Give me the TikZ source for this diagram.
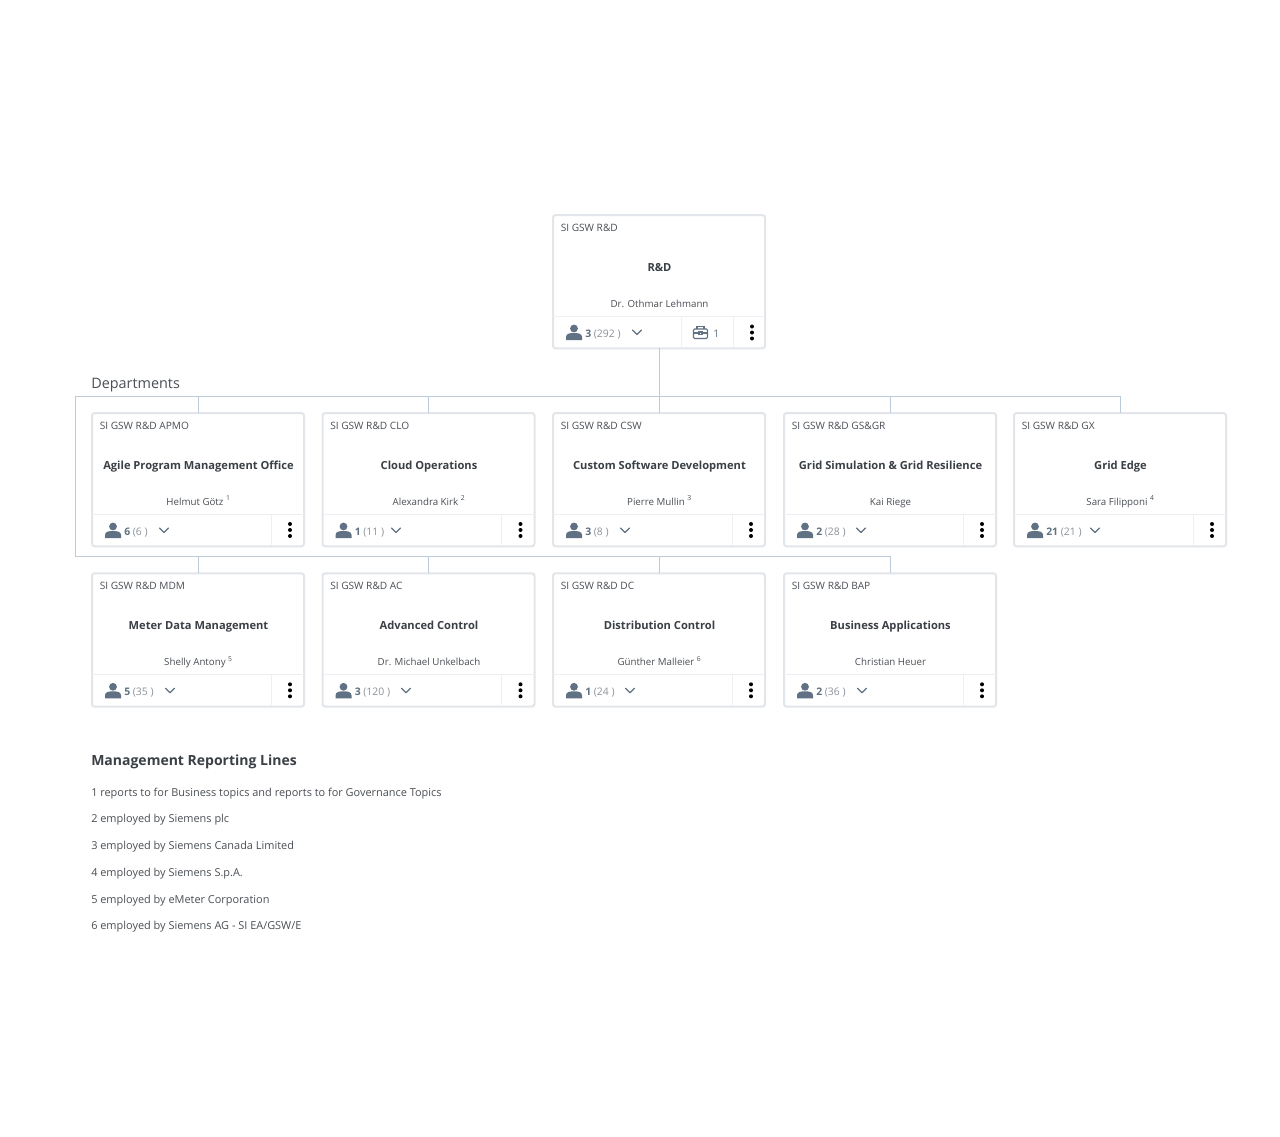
\documentclass[tikz,border=0pt]{standalone}
\usepackage{fontspec}
\setmainfont{Open Sans}
\newcommand{\semi}{\bfseries}
\definecolor{cardline}{HTML}{E2E5E9}
\definecolor{divline}{HTML}{EDEFF1}
\definecolor{conn}{HTML}{BCCBDA}
\definecolor{txt}{HTML}{4A4F55}
\definecolor{dark}{HTML}{3B4046}
\definecolor{light}{HTML}{8B9299}
\definecolor{icon}{HTML}{5F7182}
\tikzset{
  x=0.75pt,y=-0.75pt,
  cardbox/.style={draw=cardline,line width=1.5pt,rounded corners=2pt,fill=white,minimum width=159pt,minimum height=100pt,anchor=north west,inner sep=0pt,outer sep=0pt},
  codetext/.style={font=\fontsize{7.6}{9}\selectfont,text=txt,anchor=base west,inner sep=0pt},
  titletext/.style={font=\fontsize{8.35}{10}\semi\selectfont,text=dark,anchor=base,inner sep=0pt},
  whotext/.style={font=\fontsize{7.3}{9}\selectfont,text=txt,anchor=base,inner sep=0pt},
  cnttext/.style={font=\fontsize{7.8}{9}\selectfont,text=light,anchor=base west,inner sep=0pt},
  divider/.style={draw=divline,line width=0.75pt},
  connector/.style={draw=conn,line width=0.75pt},
  chev/.style={draw=icon,line width=0.9pt,line cap=round,line join=round},
  notetext/.style={font=\fontsize{8.2}{10}\selectfont,text=txt,anchor=base west,inner sep=0pt},
}
\newcommand{\personicon}[2]{%
  \fill[icon] (#1,#2-4.5) circle (3.9);
  \fill[icon] (#1-8,#2+7) -- (#1-8,#2+4) .. controls (#1-8,#2+0.5) and (#1-4,#2) .. (#1,#2)
     .. controls (#1+4,#2) and (#1+8,#2+0.5) .. (#1+8,#2+4) -- (#1+8,#2+7) -- cycle;
}
\newcommand{\chevicon}[2]{\draw[chev] (#1-4.5,#2-2.5) -- (#1,#2+2) -- (#1+4.5,#2-2.5);}
\newcommand{\dotsicon}[2]{\fill[black] (#1,#2-6) circle (2) (#1,#2) circle (2) (#1,#2+6) circle (2);}
\begin{document}
\begin{tikzpicture}
\useasboundingbox[fill=white] (0,0) rectangle (1280,1136);
% cards
\foreach \nm/\cx/\cy/\code/\ttl/\who/\cnt/\tot/\chv in {
  root/553/215/SI GSW R\&D/R\&D/Dr. Othmar Lehmann/3/(292 )/637,
  apmo/92/413/SI GSW R\&D APMO/Agile Program Management Office/Helmut Götz \textsuperscript{1}/6/(6 )/164,
  clo/322.5/413/SI GSW R\&D CLO/Cloud Operations/Alexandra Kirk \textsuperscript{2}/1/(11 )/396,
  csw/553/413/SI GSW R\&D CSW/Custom Software Development/Pierre Mullin \textsuperscript{3}/3/(8 )/625,
  gsgr/784/413/SI GSW R\&D GS\&GR/Grid Simulation \& Grid Resilience/Kai Riege/2/(28 )/861,
  gx/1014/413/SI GSW R\&D GX/Grid Edge/Sara Filipponi \textsuperscript{4}/21/(21 )/1095,
  mdm/92/573.3/SI GSW R\&D MDM/Meter Data Management/Shelly Antony \textsuperscript{5}/5/(35 )/170,
  ac/322.5/573.3/SI GSW R\&D AC/Advanced Control/Dr. Michael Unkelbach/3/(120 )/406,
  dc/553/573.3/SI GSW R\&D DC/Distribution Control/Günther Malleier \textsuperscript{6}/1/(24 )/630,
  bap/784/573.3/SI GSW R\&D BAP/Business Applications/Christian Heuer/2/(36 )/862%
}{
  \node[cardbox] (\nm) at (\cx,\cy) {};
  \node[codetext] (\nm-code) at (\cx+7.5,\cy+16.5) {\code};
  \node[titletext] (\nm-title) at (\cx+106.5,\cy+56.5) {\ttl};
  \node[whotext] (\nm-who) at (\cx+106.5,\cy+92) {\who};
  \draw[divider] (\cx,\cy+101) -- (\cx+212,\cy+101);
  \personicon{\cx+21}{\cy+118}
  \node[cnttext] (\nm-cnt) at (\cx+32,\cy+122) {\textcolor{icon}{\semi\cnt}\ \tot};
  \chevicon{\chv}{\cy+117.5}
}
% action cells
\foreach \nm/\cx/\cy in {apmo/92/413,clo/322.5/413,csw/553/413,gsgr/784/413,gx/1014/413,mdm/92/573.3,ac/322.5/573.3,dc/553/573.3,bap/784/573.3}{
  \draw[divider] (\cx+179,\cy+101) -- (\cx+179,\cy+132);
  \dotsicon{\cx+198}{\cy+117}
}
% root extras
\draw[divider] (681,316) -- (681,347);
\draw[divider] (733,316) -- (733,347);
\dotsicon{752}{332.5}
\draw[icon,line width=0.8pt,rounded corners=0.8pt] (693.5,329) rectangle (707.5,338.5);
\draw[icon,line width=0.8pt] (697,329) -- (697,326.5) -- (704,326.5) -- (704,329);
\draw[icon,line width=0.8pt] (693.5,333) -- (699,333) (702,333) -- (707.5,333);
\draw[icon,line width=0.8pt] (699,332) rectangle (702,334.5);
\node[cnttext,text=icon] (root-brief) at (713,337) {1};
% connectors
\coordinate (busTL) at (75,396);
\coordinate (busTR) at (1120.5,396);
\coordinate (busBL) at (75,556);
\coordinate (busBR) at (890,556);
\draw[connector] (root.south) -- (csw.north);
\draw[connector] (busBL) -- (busTL) -- (busTR);
\draw[connector] (busBL) -- (busBR);
\foreach \c in {apmo,clo,gsgr,gx}{
  \draw[connector] (\c.north) -- (\c.north |- busTL);
}
\foreach \c in {mdm,ac,dc,bap}{
  \draw[connector] (\c.north) -- (\c.north |- busBL);
}
% labels
\node[anchor=base west,inner sep=0pt,font=\fontsize{10.8}{12}\selectfont,text=txt] (deps) at (91,388.5) {Departments};
\node[anchor=base west,inner sep=0pt,font=\fontsize{10.5}{13}\semi\selectfont,text=dark] (mrl) at (91,765) {Management Reporting Lines};
\node[notetext] (n1) at (91,796) {1 reports to for Business topics and reports to for Governance Topics};
\node[notetext] (n2) at (91,822) {2 employed by Siemens plc};
\node[notetext] (n3) at (91,849) {3 employed by Siemens Canada Limited};
\node[notetext] (n4) at (91,876) {4 employed by Siemens S.p.A.};
\node[notetext] (n5) at (91,903) {5 employed by eMeter Corporation};
\node[notetext] (n6) at (91,929.5) {6 employed by Siemens AG - SI EA/GSW/E};
\end{tikzpicture}
\end{document}
